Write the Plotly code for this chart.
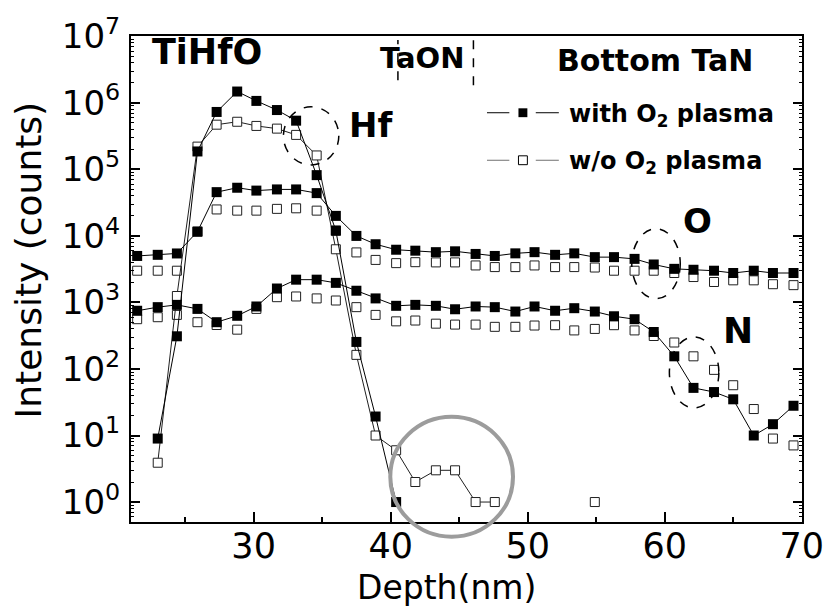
import plotly.graph_objects as go

# ---------------- data ----------------
depth = [21.5, 23.0, 24.4, 25.9, 27.3, 28.8, 30.2, 31.7, 33.1, 34.6, 36.0, 37.5,
         38.9, 40.4, 41.8, 43.3, 44.7, 46.2, 47.6, 49.1, 50.5, 52.0, 53.4, 54.9,
         56.3, 57.8, 59.2, 60.7, 62.1, 63.6, 65.0, 66.5, 67.9, 69.4]

hf_with = [None, 9, 310, 1.86e5, 7.3e5, 1.48e6, 1.07e6, 7.8e5, 5.4e5, 8.2e4, 1.2e4, 255,
           19.3, 1, None, None, None, None, None, None, None, None, None, None,
           None, None, None, None, None, None, None, None, None, None]
hf_without = [None, 3.9, 1250, 2.2e5, 4.7e5, 5.2e5, 4.5e5, 4.1e5, 3.3e5, 1.62e5, 6300, 163,
              10, 6, 2, 3, 3, 1, 1, None, None, None, None, 1,
              None, None, None, None, None, None, None, None, None, None]

o_with = [5000, 5200, 5450, 1.16e4, 4.55e4, 5.3e4, 4.8e4, 5.0e4, 5.0e4, 4.4e4, 2.0e4, 1.0e4,
          7500, 6200, 6000, 5700, 5870, 5360, 5000, 5470, 5700, 5200, 5470, 4800,
          4800, 4520, 3720, 3200, 3100, 3000, 2770, 3000, 2770, 2770]
o_without = [3000, 3000, 3000, 1.16e4, 2.5e4, 2.4e4, 2.4e4, 2.55e4, 2.6e4, 2.4e4, 1.2e4, 5650,
             4360, 3900, 4030, 4000, 4000, 3600, 3400, 3400, 3600, 3400, 3400, 3350,
             3000, 3000, 3000, 2770, 2410, 2030, 2150, 2150, 1880, 1820]

n_with = [750, 850, 920, 800, 505, 630, 870, 1620, 2200, 2200, 1970, 1500,
          1150, 890, 920, 890, 790, 870, 850, 730, 870, 750, 820, 730,
          620, 560, 360, 155, 52, 45, 35, 10, 14.8, 28]
n_without = [560, 600, 650, 505, 458, 390, 800, 1200, 1230, 1150, 1070, 850,
             650, 520, 535, 480, 465, 465, 430, 430, 450, 455, 380, 400,
             455, 380, 313, 250, 155, 97, 57, 25, 9, 7.1]

y_tickvals = [1, 10, 100, 1000, 1e4, 1e5, 1e6, 1e7]
y_ticktext = ["10<sup>0</sup>", "10<sup>1</sup>", "10<sup>2</sup>", "10<sup>3</sup>",
              "10<sup>4</sup>", "10<sup>5</sup>", "10<sup>6</sup>", "10<sup>7</sup>"]

FONT = "DejaVu Sans"

fig = go.Figure()

open_marker = dict(symbol="square", size=9, color="white", line=dict(color="#202020", width=1))
filled_marker = dict(symbol="square", size=10, color="black", line=dict(width=0))

# open series (w/o O2 plasma) drawn first
fig.add_trace(go.Scatter(x=depth, y=o_without, mode="markers", marker=open_marker,
                         showlegend=False, name="O w/o"))
fig.add_trace(go.Scatter(x=depth, y=n_without, mode="markers", marker=open_marker,
                         showlegend=False, name="N w/o"))
fig.add_trace(go.Scatter(x=depth, y=hf_without, mode="lines+markers", marker=open_marker,
                         line=dict(color="#202020", width=1), connectgaps=False,
                         showlegend=False, name="Hf w/o"))
# filled series (with O2 plasma)
for ys, nm in [(o_with, "O with"), (n_with, "N with"), (hf_with, "Hf with")]:
    fig.add_trace(go.Scatter(x=depth, y=ys, mode="lines+markers", marker=filled_marker,
                             line=dict(color="black", width=1), connectgaps=False,
                             showlegend=False, name=nm))

# ---------------- layout helpers ----------------
L, R, T, B = 131, 809, 28, 522
W, H = 836, 609


def px(x):
    return (x - L) / (R - L)


def py(y):
    return (B - y) / (B - T)


shapes = []
# TaON region dashed boundaries
for xx, y0, y1 in [(400.7, 73, 32), (477, 78, 32)]:
    shapes.append(dict(type="line", xref="paper", yref="paper", x0=px(xx), x1=px(xx),
                       y0=py(y0), y1=py(y1), line=dict(color="black", width=1.5, dash="dash")))
# dashed ellipses
for x0, x1, y0, y1 in [(285, 341, 159, 100), (637, 686, 295, 224), (675, 725, 406, 334)]:
    shapes.append(dict(type="circle", xref="paper", yref="paper", x0=px(x0), x1=px(x1),
                       y0=py(y0), y1=py(y1), line=dict(color="black", width=1.5, dash="dash")))
# gray circle
shapes.append(dict(type="circle", xref="paper", yref="paper", x0=px(393), x1=px(517),
                   y0=py(537), y1=py(415), line=dict(color="#9c9c9c", width=4)))
# legend glyphs
for yc, col, fill in [(106, "black", "black"), (154.3, "#707070", "white")]:
    for xa, xb in [(490.7, 513.3), (540, 563.3)]:
        shapes.append(dict(type="line", xref="paper", yref="paper", x0=px(xa), x1=px(xb),
                           y0=py(yc), y1=py(yc), line=dict(color=col, width=1)))
    shapes.append(dict(type="rect", xref="paper", yref="paper", x0=px(522.5), x1=px(531.5),
                       y0=py(yc + 4.5), y1=py(yc - 4.5), fillcolor=fill,
                       line=dict(color="black", width=1 if fill == "white" else 0)))

annotations = []


def label(text, x, y, size, xanchor="center", bold=True, angle=0):
    annotations.append(dict(text=("<b>%s</b>" % text) if bold else text,
                            xref="paper", yref="paper", x=px(x), y=py(y),
                            xanchor=xanchor, yanchor="middle", showarrow=False,
                            textangle=angle,
                            font=dict(family=FONT, size=size, color="black")))


label("TiHfO", 207.5, 44, 35)
label("TaON", 426, 50, 29)
label("Bottom TaN", 660, 53, 30)
label("Hf", 374, 118, 34)
label("O", 703, 216, 34)
label("N", 744, 327, 36)
label("with O<sub>2</sub> plasma", 572, 109, 24, xanchor="left")
label("w/o O<sub>2</sub> plasma", 572, 157, 24, xanchor="left")
label("Depth(nm)", 449.5, 589, 33, bold=False)
label("Intensity (counts)", 27, 256, 36, bold=False, angle=-90)

fig.update_layout(
    width=W, height=H,
    margin=dict(l=L, r=W - R, t=T, b=H - B, pad=0),
    plot_bgcolor="white", paper_bgcolor="white",
    font=dict(family=FONT, color="black"),
    showlegend=False,
    shapes=shapes,
    annotations=annotations,
    xaxis=dict(range=[21.05, 70.02], tick0=0, dtick=10, ticks="inside", ticklen=10,
               tickwidth=1.5, tickcolor="black", showline=True, linewidth=2,
               linecolor="black", mirror=True, showgrid=False, zeroline=False,
               tickfont=dict(family=FONT, size=35), ticklabelstandoff=-8,
               minor=dict(tick0=0, dtick=5, ticks="inside", ticklen=5, tickwidth=1.5,
                          tickcolor="black", showgrid=False)),
    yaxis=dict(type="log", range=[-0.3, 7.005], tickvals=y_tickvals, ticktext=y_ticktext,
               ticks="inside", ticklen=9, tickwidth=1.5, tickcolor="black",
               showline=True, linewidth=2, linecolor="black", mirror="ticks",
               showgrid=False, zeroline=False, tickfont=dict(family=FONT, size=34),
               ticklabelstandoff=2,
               minor=dict(dtick="D1", ticks="inside", ticklen=3, tickwidth=1,
                          tickcolor="black", showgrid=False)),
)

fig.write_html("out.html")
